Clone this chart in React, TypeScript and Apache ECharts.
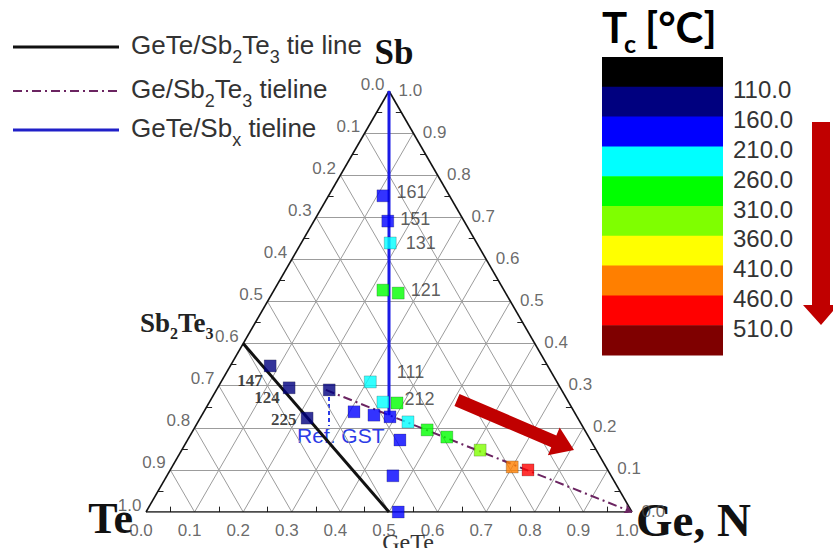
import { useEffect, useRef } from "react";
import * as echarts from "echarts";

const H = Math.sqrt(3) / 2;

// ---- data (ternary fractions: Ge, Sb; Te = 1 - Ge - Sb) ----
const sampleGe = [0.112, 0.152, 0.183, 0.224, 0.259, 0.082, 0.147, 0.220, 0.232, 0.307, 0.357, 0.309, 0.354, 0.389, 0.387, 0.432, 0.437, 0.481, 0.530, 0.614, 0.700, 0.736, 0.465, 0.519];
const sampleSb = [0.751, 0.691, 0.639, 0.527, 0.520, 0.347, 0.295, 0.223, 0.290, 0.309, 0.261, 0.238, 0.230, 0.226, 0.259, 0.214, 0.171, 0.195, 0.178, 0.147, 0.107, 0.100, 0.086, 0.0];
// index into colorbar bands
const sampleBand = [2, 2, 3, 4, 4, 1, 1, 1, 1, 3, 3, 2, 2, 2, 4, 3, 2, 4, 4, 5, 7, 8, 2, 2];
const sampleNote = ["161", "151", "131", "", "121", "147", "124", "225", "", "111", "", "", "", "", "212", "", "", "", "", "", "", "", "", ""];

const tieBlackGe = [0, 0.5];
const tieBlackSb = [0.4, 0];
const tieDashGe = [0.225, 1];
const tieDashSb = [0.29, 0];
const tieBlueGe = [0.385, 0];
const tieBlueSb = [0.23, 1];

const tickValues = [0, 0.1, 0.2, 0.3, 0.4, 0.5, 0.6, 0.7, 0.8, 0.9, 1.0];
const tickLabels = ["0.0", "0.1", "0.2", "0.3", "0.4", "0.5", "0.6", "0.7", "0.8", "0.9", "1.0"];

const colorbarColors = ["#000000", "#00007f", "#0000ff", "#00ffff", "#00ff00", "#7fff00", "#ffff00", "#ff7f00", "#ff0000", "#7f0000"];
const colorbarLabels = ["110.0", "160.0", "210.0", "260.0", "310.0", "360.0", "410.0", "460.0", "510.0"];

const SANS = "'Liberation Sans', Arial, sans-serif";
const SERIF = "'Liberation Serif', 'Times New Roman', serif";

const toXY = (g: number, s: number) => [g + s / 2, s * H];

const noteStyle: Record<string, any> = {
  "161": { position: "right", distance: 7, offset: [0, -4] },
  "151": { position: "right", distance: 6, offset: [0, -2] },
  "131": { position: "right", distance: 9, offset: [0, 0] },
  "121": { position: "right", distance: 6, offset: [0, -3] },
  "111": { position: "right", distance: 20, offset: [0, -10] },
  "212": { position: "right", distance: 1, offset: [0, -4] },
  "147": { position: "left", distance: 1, offset: [0, 15], serif: true },
  "124": { position: "left", distance: 3, offset: [0, 10], serif: true },
  "225": { position: "left", distance: 4, offset: [0, 1], serif: true },
};

function buildOption() {
  const inner = tickValues.slice(1, -1);
  const gridLines: any[] = [];
  inner.forEach((v) => {
    gridLines.push({ coords: [toXY(0, v), toXY(1 - v, v)] });
    gridLines.push({ coords: [toXY(v, 0), toXY(v, 1 - v)] });
    gridLines.push({ coords: [toXY(1 - v, 0), toXY(0, 1 - v)] });
  });
  const minor: any[] = [];
  const tl = 0.011;
  tickValues.slice(0, -1).forEach((v) => {
    const h = v + 0.05;
    const b = toXY(h, 0);
    minor.push({ coords: [b, [b[0], b[1] + tl]] });
    const l = toXY(0, h);
    minor.push({ coords: [l, [l[0] + tl, l[1]]] });
    const r = toXY(1 - h, h);
    minor.push({ coords: [r, [r[0] - tl, r[1]]] });
  });
  const frame = [
    { coords: [toXY(0, 0), toXY(1, 0)] },
    { coords: [toXY(1, 0), toXY(0, 1)] },
    { coords: [toXY(0, 1), toXY(0, 0)] },
  ];

  const tickLabelStyle = { color: "#444", fontSize: 17, fontFamily: SANS };
  const tickData: any[] = [];
  tickValues.forEach((v, i) => {
    tickData.push({ value: toXY(v, 0), label: { ...tickLabelStyle, show: true, formatter: tickLabels[i], position: "bottom", distance: 9, offset: [-5, 0] } });
    tickData.push({ value: toXY(0, 1 - v), label: { ...tickLabelStyle, show: true, formatter: tickLabels[i], position: "left", distance: 4, offset: [0, -7] } });
    tickData.push({ value: toXY(1 - v, v), label: { ...tickLabelStyle, show: true, formatter: tickLabels[i], position: "right", distance: 9, offset: [0, -1] } });
  });

  const sampleData = sampleGe.map((g, i) => {
    const note = sampleNote[i];
    const st = note ? noteStyle[note] : null;
    return {
      value: toXY(g, sampleSb[i]),
      itemStyle: { color: colorbarColors[sampleBand[i]], borderColor: "rgba(0,0,0,0.25)", borderWidth: 1 },
      label: st
        ? {
            show: true,
            formatter: note,
            position: st.position,
            distance: st.distance,
            offset: st.offset,
            fontSize: st.serif ? 17 : 18,
            fontWeight: st.serif ? "bold" : "normal",
            fontFamily: st.serif ? SERIF : SANS,
            color: st.serif ? "#111" : "#333",
          }
        : { show: false },
    };
  });

  // colorbar
  const cbX = 602, cbY = 57, cbW = 121, cbH = 298;
  const band = cbH / colorbarColors.length;
  const graphics: any[] = [];
  colorbarColors.forEach((c, i) => {
    graphics.push({ type: "rect", shape: { x: cbX, y: cbY + i * band, width: cbW, height: band + 0.5 }, style: { fill: c } });
  });
  colorbarLabels.forEach((t, i) => {
    graphics.push({ type: "text", x: 733, y: cbY + (i + 1) * band + 3, style: { text: t, fontSize: 24, fontFamily: SANS, fill: "#333", verticalAlign: "middle", align: "left" } });
  });
  // title
  graphics.push({ type: "text", x: 602, y: 27, style: { text: "T", font: "bold 42px Lato, sans-serif", fill: "#000", verticalAlign: "middle" } });
  graphics.push({ type: "text", x: 624, y: 43, style: { text: "c", font: "bold 25px Lato, sans-serif", fill: "#000", verticalAlign: "middle" } });
  graphics.push({ type: "text", x: 645, y: 27, style: { text: "[°C]", font: "bold 42px Lato, sans-serif", fill: "#000", verticalAlign: "middle" } });
  // vertical red arrow
  graphics.push({ type: "polygon", z: 100, shape: { points: [[812, 122], [830, 122], [830, 305], [838, 305], [821, 325], [803, 305], [812, 305]] }, style: { fill: "#c00000" } });
  // diagonal red arrow
  {
    const tail = [457, 400], tip = [574, 450];
    const dx = tip[0] - tail[0], dy = tip[1] - tail[1];
    const len = Math.hypot(dx, dy);
    const ux = dx / len, uy = dy / len, px = -uy, py = ux;
    const hw = 6.5, hh = 15, hl = 22;
    const bx = tip[0] - ux * hl, by = tip[1] - uy * hl;
    const pts = [
      [tail[0] + px * hw, tail[1] + py * hw],
      [bx + px * hw, by + py * hw],
      [bx + px * hh, by + py * hh],
      tip,
      [bx - px * hh, by - py * hh],
      [bx - px * hw, by - py * hw],
      [tail[0] - px * hw, tail[1] - py * hw],
    ];
    graphics.push({ type: "polygon", z: 100, shape: { points: pts }, style: { fill: "#c00000" } });
  }
  // legend
  const legendY = [47, 91, 130];
  graphics.push({ type: "line", shape: { x1: 13, y1: legendY[0], x2: 119, y2: legendY[0] }, style: { stroke: "#111", lineWidth: 3 } });
  graphics.push({ type: "line", shape: { x1: 13, y1: legendY[1], x2: 119, y2: legendY[1] }, style: { stroke: "#6b2461", lineWidth: 2, lineDash: [9, 4, 2, 4] } });
  graphics.push({ type: "line", shape: { x1: 13, y1: legendY[2], x2: 119, y2: legendY[2] }, style: { stroke: "#2020c8", lineWidth: 3 } });
  const rich = {
    a: { fontSize: 26, fontFamily: SANS, fill: "#333", verticalAlign: "top" },
    b: { fontSize: 18, fontFamily: SANS, fill: "#333", verticalAlign: "top", padding: [16, 0, 0, 0] },
  };
  const legendTexts = ["{a|GeTe/Sb}{b|2}{a|Te}{b|3}{a| tie line}", "{a|Ge/Sb}{b|2}{a|Te}{b|3}{a| tieline}", "{a|GeTe/Sb}{b|x}{a| tieline}"];
  legendTexts.forEach((t, i) => {
    graphics.push({ type: "text", x: 131, y: legendY[i] - 15, style: { text: t, rich, verticalAlign: "top", align: "left" } });
  });
  // axis names
  graphics.push({ type: "text", x: 394, y: 52, style: { text: "Sb", font: `bold 35px ${SERIF}`, fill: "#111", align: "center", verticalAlign: "middle" } });
  graphics.push({ type: "text", x: 133, y: 518, style: { text: "Te", font: `bold 44px ${SERIF}`, fill: "#111", align: "right", verticalAlign: "middle" } });
  graphics.push({ type: "text", x: 636, y: 520, style: { text: "Ge, N", font: `bold 47px ${SERIF}`, fill: "#111", align: "left", verticalAlign: "middle" } });
  graphics.push({ type: "text", x: 408, y: 530, style: { text: "GeTe", font: `24px ${SERIF}`, fill: "#333", align: "center", verticalAlign: "top" } });
  graphics.push({
    type: "text", x: 140, y: 309,
    style: {
      text: "{a|Sb}{b|2}{a|Te}{b|3}", verticalAlign: "top", align: "left",
      rich: {
        a: { fontSize: 27, fontWeight: "bold", fontFamily: SERIF, fill: "#222", verticalAlign: "top" },
        b: { fontSize: 16, fontWeight: "bold", fontFamily: SERIF, fill: "#222", verticalAlign: "top", padding: [16, 0, 0, 0] },
      },
    },
  });
  // Ref GST annotation
  graphics.push({ type: "line", shape: { x1: 329, y1: 397, x2: 329, y2: 426 }, style: { stroke: "#2b3be6", lineWidth: 2, lineDash: [4, 3] } });
  graphics.push({ type: "text", x: 297, y: 435, style: { text: "Ref. GST", fontSize: 21, fontFamily: SANS, fill: "#2b3be6", verticalAlign: "middle", align: "left" } });

  return {
    animation: false,
    grid: { left: 146, top: 91, width: 486, height: 421, outerBoundsMode: "none", containLabel: false },
    xAxis: { type: "value", min: 0, max: 1, show: false },
    yAxis: { type: "value", min: 0, max: H, show: false },
    graphic: graphics,
    series: [
      { type: "lines", coordinateSystem: "cartesian2d", silent: true, z: 1, data: gridLines, lineStyle: { color: "#9c9c9c", width: 1, opacity: 1 } },
      { type: "lines", coordinateSystem: "cartesian2d", silent: true, z: 1, data: minor, lineStyle: { color: "#222", width: 1, opacity: 1 } },
      { type: "lines", coordinateSystem: "cartesian2d", silent: true, z: 1, data: frame, lineStyle: { color: "#111", width: 1.6, opacity: 1 } },
      { type: "line", name: "GeTe/Sb2Te3 tie line", silent: true, symbol: "none", z: 3, data: tieBlackGe.map((g, i) => toXY(g, tieBlackSb[i])), lineStyle: { color: "#111", width: 3 } },
      { type: "lines", name: "Ge/Sb2Te3 tieline", coordinateSystem: "cartesian2d", silent: true, z: 3, symbol: ["none", "arrow"], symbolSize: 8, data: [{ coords: tieDashGe.map((g, i) => toXY(g, tieDashSb[i])) }], lineStyle: { color: "#6b2461", width: 2, type: [9, 4, 2, 4], opacity: 1 } },
      { type: "line", name: "GeTe/Sbx tieline", silent: true, symbol: "none", z: 3, data: tieBlueGe.map((g, i) => toXY(g, tieBlueSb[i])), lineStyle: { color: "#1a1ae6", width: 3 } },
      { type: "scatter", name: "samples", silent: true, z: 4, symbol: "rect", symbolSize: 12, data: sampleData },
      { type: "scatter", name: "ticks", silent: true, z: 5, symbol: "circle", symbolSize: 1, itemStyle: { color: "rgba(0,0,0,0)" }, data: tickData },
    ],
  };
}

export default function App() {
  const ref = useRef<HTMLDivElement>(null);
  useEffect(() => {
    const chart = echarts.init(ref.current!, null, { renderer: "svg" });
    chart.setOption(buildOption() as any);
    return () => chart.dispose();
  }, []);
  return <div ref={ref} style={{ position: "fixed", left: 0, top: 0, width: 833, height: 548, background: "#fff" }} />;
}
